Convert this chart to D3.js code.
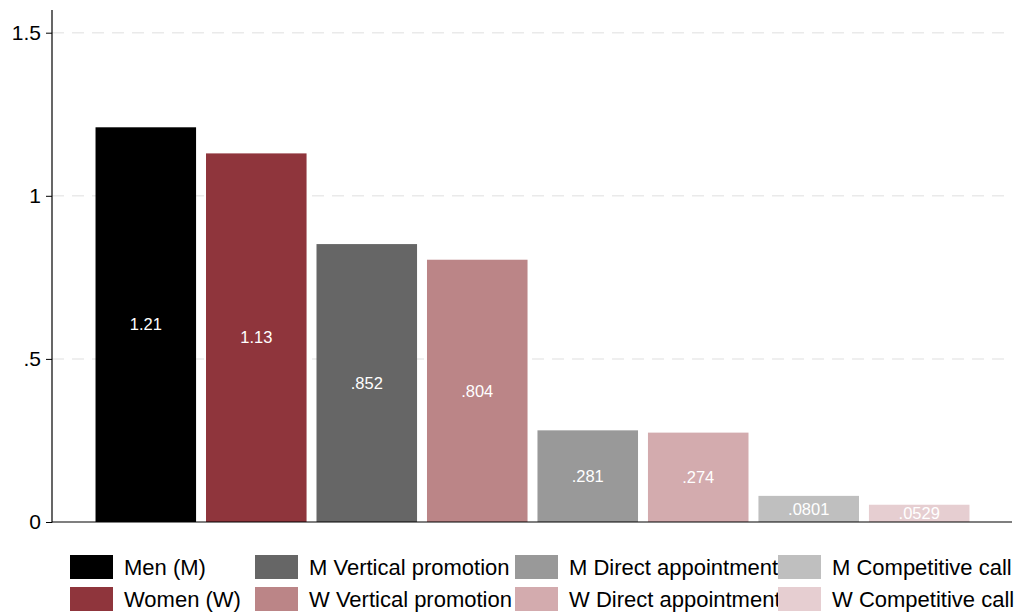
<!DOCTYPE html>
<html><head><meta charset="utf-8">
<script src="https://cdn.jsdelivr.net/npm/d3@7"></script>
<style>body{margin:0;background:#fff;}svg{display:block;font-family:Arial,"Liberation Sans",sans-serif;}</style>
</head><body>
<svg id="c" width="1027" height="614"></svg>
<script>
const categories = ["Men (M)","Women (W)","M Vertical promotion","W Vertical promotion","M Direct appointment","W Direct appointment","M Competitive call","W Competitive call"];
const values = [1.21, 1.13, 0.852, 0.804, 0.281, 0.274, 0.0801, 0.0529];
const valueLabels = ["1.21","1.13",".852",".804",".281",".274",".0801",".0529"];
const colors = ["#000000","#8f353c","#666666","#bb8587","#999999","#d3abae","#bfbfbf","#e6ced1"];
const yTicks = [0, 0.5, 1, 1.5];
const yTickLabels = ["0",".5","1","1.5"];

(function () {
const svg = d3.select("#c");
const mLeft = 52, mRight = 1012, mTop = 10, mBottom = 522;
const y = d3.scaleLinear().domain([0, 1.5]).range([mBottom, 32.7]);
const x = d3.scaleBand().domain(categories).range([90, 975]).paddingInner(0.09).paddingOuter(0.05);

// gridlines
svg.append("g").selectAll("line").data(yTicks.filter(d => d > 0)).join("line")
  .attr("x1", mLeft).attr("x2", mRight).attr("y1", d => y(d)).attr("y2", d => y(d))
  .attr("stroke", "#eaeaea").attr("stroke-width", 1.5).attr("stroke-dasharray", "12,8");

// bars
svg.append("g").selectAll("rect").data(values).join("rect")
  .attr("x", (d, i) => x(categories[i])).attr("width", x.bandwidth())
  .attr("y", d => y(d)).attr("height", d => mBottom - y(d))
  .attr("fill", (d, i) => colors[i]);

// value labels
svg.append("g").selectAll("text").data(values).join("text")
  .attr("x", (d, i) => x(categories[i]) + x.bandwidth() / 2)
  .attr("y", d => (y(d) + mBottom) / 2)
  .attr("dy", "0.35em").attr("text-anchor", "middle")
  .attr("fill", "#fff").attr("font-size", 16.5)
  .text((d, i) => valueLabels[i]);

// y axis
const yAxis = d3.axisLeft(y).tickValues(yTicks).tickFormat((d, i) => yTickLabels[i]).tickSize(6).tickPadding(5);
const ga = svg.append("g").attr("transform", `translate(${mLeft},0)`).call(yAxis);
ga.attr("font-size", 21).attr("font-family", "Arial, 'Liberation Sans', sans-serif");
ga.select(".domain").remove();
ga.selectAll("text").attr("fill", "#000");
ga.selectAll("line").attr("stroke", "#000");
svg.append("line").attr("x1", mLeft).attr("x2", mLeft).attr("y1", mTop).attr("y2", mBottom + 0.5).attr("stroke", "#000").attr("stroke-width", 1.2);
svg.append("line").attr("x1", mLeft).attr("x2", mRight).attr("y1", mBottom).attr("y2", mBottom).attr("stroke", "#000").attr("stroke-width", 1.2);

// legend
const colX = [70, 255, 515, 778];
const rowY = [555, 587];
const lg = svg.append("g");
categories.forEach((c, i) => {
  const col = Math.floor(i / 2), row = i % 2;
  lg.append("rect").attr("x", colX[col]).attr("y", rowY[row]).attr("width", 43).attr("height", 24).attr("fill", colors[i]);
  lg.append("text").attr("x", colX[col] + 54).attr("y", rowY[row] + 12).attr("dy", "0.35em")
    .attr("font-size", 22).attr("fill", "#000").text(c);
});
})();
</script>
</body></html>
